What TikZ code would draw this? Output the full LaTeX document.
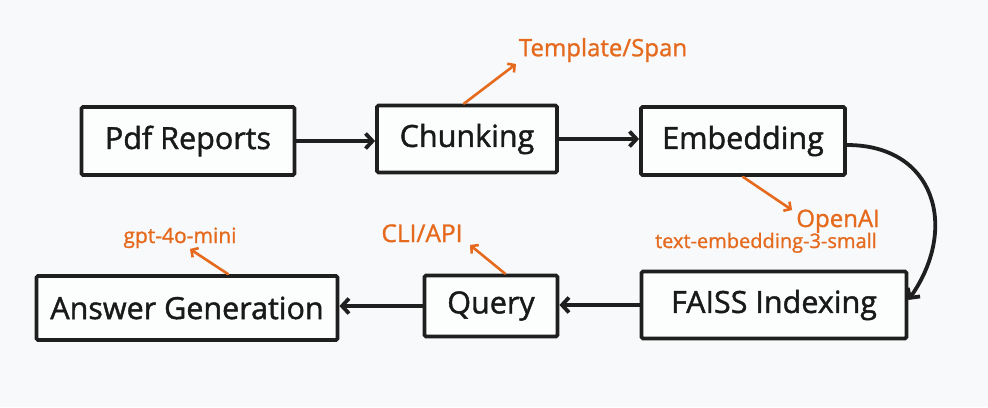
\documentclass[tikz,border=0pt]{standalone}
\usepackage{fontspec}
\setmainfont{Open Sans}
\newfontfamily\stagefont{Open Sans}[FakeBold=1.4]
\newfontfamily\notefont{Open Sans}[FakeBold=1.1]
\usetikzlibrary{arrows.meta,positioning}
\definecolor{noteorange}{HTML}{E56A1E}
\definecolor{paper}{HTML}{F8F9FA}
\tikzstyle{stage}=[rectangle,draw=black!88,line width=3.8pt,rounded corners=1.5pt,
  fill=white!60!paper,inner sep=0pt,align=center,font=\stagefont\fontsize{30.5}{36}\selectfont,text=black!90]
\tikzstyle{flow}=[draw=black!88,line width=3.8pt,line cap=round,
  -{Straight Barb[length=7pt,width=15pt,line width=3.8pt]}]
\tikzstyle{note}=[text=noteorange,inner sep=1pt,font=\notefont\fontsize{24}{28}\selectfont]
\tikzstyle{notearrow}=[draw=noteorange,line width=2.6pt,line cap=round,
  -{Straight Barb[length=5pt,width=11pt,line width=2.6pt]}]

\begin{document}
\begin{tikzpicture}[x=1pt,y=-1pt]
    \fill[paper] (0,0) rectangle (988,407);
    \useasboundingbox (0,0) rectangle (988,407);

    % top row
    \node[stage,minimum width=213pt,minimum height=68pt] (pdf) at (188,141) {Pdf Reports};
    \node[stage,minimum width=180pt,minimum height=67pt] (chunk) at (467,139) {Chunking};
    \node[stage,minimum width=204pt,minimum height=68pt] (embed) at (743,141) {Embedding};
    % bottom row
    \node[stage,minimum width=265pt,minimum height=67pt] (faiss) at (774,305) {FAISS Indexing};
    \node[stage,minimum width=133pt,minimum height=61pt] (query) at (491,306) {Query};
    \node[stage,minimum width=301pt,minimum height=64pt] (answer) at (187,308) {Answer Generation};

    \draw[flow] (pdf) -- (chunk.west |- pdf);
    \draw[flow] (chunk) -- (embed.west |- chunk);
    \draw[flow] ([yshift=-4pt]embed.east) to[out=0,in=55,looseness=1.35] ([yshift=5pt]faiss.east);
    \draw[flow] (faiss) -- (query.east |- faiss);
    \draw[flow] (query.west) -- (answer.east |- query.west);

    % annotations
    \node[note] (span) at (603,50) {Template/Span};
    \node[note,anchor=base east] (openai) at (881,227) {OpenAI};
    \node[note,anchor=base east,font=\notefont\fontsize{20}{24}\selectfont] (model) at (878,248) {text-embedding-3-small};
    \node[note,anchor=base,font=\notefont\fontsize{24.5}{28}\selectfont] (cli) at (422,242) {CLI/API};
    \node[note,anchor=base,font=\notefont\fontsize{21}{25}\selectfont] (gpt) at (180,243) {gpt-4o-mini};

    \coordinate (spantip) at (516,64);
    \coordinate (openaitip) at (792,210);
    \coordinate (clitip) at (470,245);
    \coordinate (gpttip) at (190,249);
    \draw[notearrow] ([xshift=-3pt]chunk.north) -- (spantip);
    \draw[notearrow] (embed.south) -- (openaitip);
    \draw[notearrow] ([xshift=14pt]query.north) -- (clitip);
    \draw[notearrow] ([xshift=41pt]answer.north) -- (gpttip);
\end{tikzpicture}
\end{document}
